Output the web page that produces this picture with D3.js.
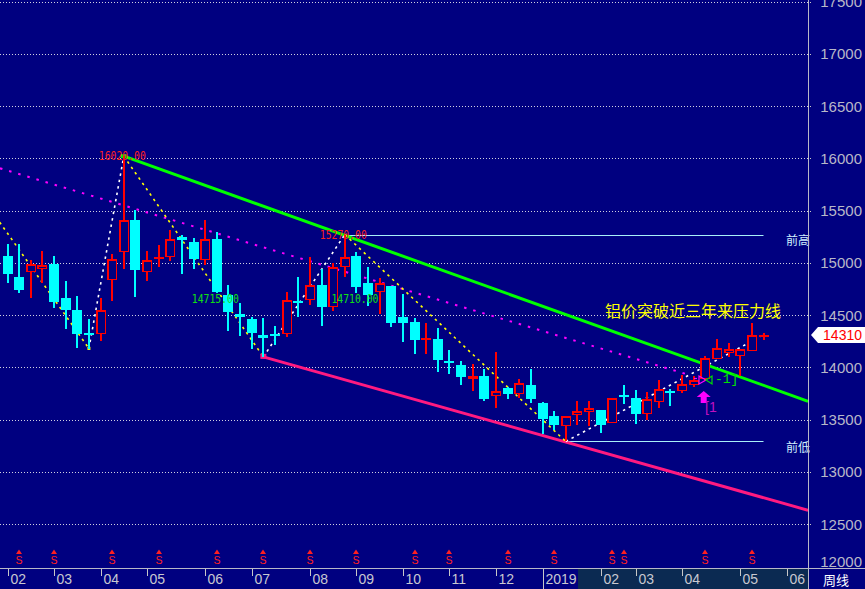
<!DOCTYPE html>
<html><head><meta charset="utf-8">
<script src="https://cdn.jsdelivr.net/npm/d3@7"></script>
<style>html,body{margin:0;padding:0;background:#000080;overflow:hidden}svg{display:block}</style>
</head><body><svg id="c" width="865" height="589"></svg>
<script>
// ---- data (weekly aluminium, index = week number) ----
const opens  = [15062,14861,14916,14941,14986,14660,14545,14330,14323,14839,15107,15407,14912,15045,15055,15244,15196,15026,15225,14689,14507,14459,14306,14316,14319,14634,14644,14785,14577,14957,15062,14804,14721,14775,14478,14431,14270,14268,14060,14019,13888,13914,13725,13799,13742,13828,13655,13531,13438,13544,13572,13589,13467,13732,13703,13550,13668,13770,13770,13828,13885,14077,14134,14108,14153,14287];
const highs  = [15177,15177,15024,15110,15062,14823,14679,14466,14667,15081,16020,15502,15110,15167,15311,15263,15234,15407,15292,14785,14612,14478,14469,14392,14718,14861,15053,14938,14998,15270,15100,14957,14852,14775,14699,14469,14421,14373,14163,14057,14029,13984,14144,13811,13885,13981,13665,13579,13538,13675,13675,13589,13703,13828,13780,13761,13876,13789,13923,13914,14105,14268,14230,14172,14421,14325];
const lows   = [14804,14708,14663,14806,14567,14367,14188,14179,14252,14630,14941,14673,14826,14960,15014,14890,14938,14979,14715,14344,14300,14175,14100,14210,14290,14481,14596,14395,14539,14864,14708,14584,14507,14385,14242,14127,14127,13955,13936,13831,13773,13677,13611,13697,13703,13655,13359,13397,13290,13448,13438,13368,13467,13649,13455,13493,13610,13627,13751,13809,13866,14077,14096,13914,14153,14258];
const closes = [14890,14737,14992,14976,14625,14548,14319,14318,14552,15033,15407,14931,15024,15055,15225,15215,15033,15225,14721,14526,14478,14325,14280,14297,14641,14625,14785,14577,14957,15053,14766,14689,14804,14424,14424,14261,14280,14070,14041,13907,13914,13697,13770,13744,13847,13694,13502,13445,13538,13579,13608,13448,13703,13716,13550,13694,13789,13751,13837,13876,14086,14182,14172,14172,14306,14310];
const monthTickIdx   = [0,4,8,12,17,21,26,30,34,38,42,46,51,54,58,63,67];
const monthTickLabel = ["02","03","04","05","06","07","08","09","10","11","12","2019","02","03","04","05","06"];
const signalIdx = [1,4,9,13,18,22,26,30,35,38,43,47,52,53,60,64];
const yTickValues = [12000,12500,13000,13500,14000,14500,15000,15500,16000,16500,17000,17500];
const zigzagPts = [[-1,15440],[7,14180],[10,16020],[22,14100],[29,15270],[48,13290],[65,14310]];
const greenLinePts   = [[10,16020],[68.83,13675]];
const pinkLinePts    = [[22,14100],[68.83,12632]];
const magentaLinePts = [[-0.645,15904],[58.7,13924]];
const prevHigh = {from:29, to:65, value:15270, label:"前高"};
const prevLow  = {from:48, to:65, value:13290, label:"前低"};
const extremeLabels = [
  {i:10, v:16020, text:"16020.00", kind:"high"},
  {i:29, v:15270, text:"15270.00", kind:"high"},
  {i:18, v:14715, text:"14715.00", kind:"low"},
  {i:30, v:14710, text:"14710.00", kind:"low"}
];
const lastPrice = 14310;
const title = "铝价突破近三年来压力线";

// ---- layout ----
const W = 865, H = 589, plotR = 808, plotB = 568;
const svg = d3.select("#c");
const BG = "#000080";
const x = d3.scaleLinear().domain([0,65]).range([7.5,763.5]);
const y = d3.scaleLinear().domain([12000,17500]).range([576.3,1.55]);

svg.append("rect").attr("width",W).attr("height",H).attr("fill",BG);
svg.append("defs").append("clipPath").attr("id","plot")
  .append("rect").attr("x",0).attr("y",0).attr("width",plotR).attr("height",plotB);
const g = svg.append("g").attr("clip-path","url(#plot)");

// gridlines
g.selectAll("line.grid").data(yTickValues.filter(v=>y(v)<plotB)).join("line")
  .attr("x1",0).attr("x2",plotR).attr("y1",d=>Math.round(y(d))+0.5).attr("y2",d=>Math.round(y(d))+0.5)
  .attr("stroke","#d0d0e0").attr("stroke-width",1).attr("stroke-dasharray","1,2");

// prev high / low lines
[prevHigh, prevLow].forEach(p=>{
  g.append("line").attr("x1",x(p.from)).attr("x2",x(p.to))
   .attr("y1",Math.round(y(p.value))+0.5).attr("y2",Math.round(y(p.value))+0.5)
   .attr("stroke","#a8f0f8").attr("stroke-width",1.2);
});

// trend lines
const line = d3.line().x(d=>x(d[0])).y(d=>y(d[1]));
g.append("path").attr("d",line(magentaLinePts)).attr("fill","none")
  .attr("stroke","#ff00ff").attr("stroke-width",2).attr("stroke-dasharray","2.5,7");
g.append("path").attr("d",line(greenLinePts)).attr("fill","none")
  .attr("stroke","#00ff00").attr("stroke-width",3);
g.append("path").attr("d",line(pinkLinePts)).attr("fill","none")
  .attr("stroke","#ff1a80").attr("stroke-width",3);

// zigzag
for(let k=0;k<zigzagPts.length-1;k++){
  const a=zigzagPts[k], b=zigzagPts[k+1];
  g.append("path").attr("d",line([a,b])).attr("fill","none")
   .attr("stroke", b[1]<a[1] ? "#ffff00" : "#ffffff")
   .attr("stroke-width",1.6).attr("stroke-dasharray","2.5,4");
}
// markers at pivots
g.append("rect").attr("x",x(7)-1.5).attr("y",y(14180)-1.5).attr("width",3).attr("height",3).attr("fill","#ffff00");
g.append("rect").attr("x",x(22)-3).attr("y",y(14100)-3).attr("width",6).attr("height",5).attr("fill","#ff1a80");
g.append("rect").attr("x",x(10)-3).attr("y",y(16020)-2).attr("width",6).attr("height",4).attr("fill","#00ff00");

// candles
const data = opens.map((o,i)=>({i,o,h:highs[i],l:lows[i],c:closes[i]}));
const cg = g.append("g").attr("shape-rendering","crispEdges");
data.forEach(d=>{
  const up = d.c >= d.o;
  const col = up ? "#ff0000" : "#00ffff";
  const left = Math.round(x(d.i)-5);
  const cx = left+5;
  let top = Math.round(y(Math.max(d.o,d.c)));
  let bot = Math.round(y(Math.min(d.o,d.c)));
  if(bot-top<2) bot = top+2;
  cg.append("line").attr("x1",cx).attr("x2",cx).attr("y1",y(d.h)).attr("y2",top).attr("stroke",col).attr("stroke-width",1.3);
  cg.append("line").attr("x1",cx).attr("x2",cx).attr("y1",bot).attr("y2",y(d.l)).attr("stroke",col).attr("stroke-width",1.3);
  if(up){
    const last = d.i===opens.length-1;
    cg.append("rect").attr("x",left+0.75).attr("y",top+0.75).attr("width",8.5).attr("height",Math.max(0.5,bot-top-1.5))
      .attr("fill", last ? "#ffffff" : BG).attr("stroke",col).attr("stroke-width",1.5);
  } else {
    cg.append("rect").attr("x",left).attr("y",top).attr("width",10).attr("height",bot-top).attr("fill",col);
  }
});

// extreme labels
g.selectAll("text.ext").data(extremeLabels).join("text")
  .attr("x",d=>x(d.i)-25).attr("y",d=>d.kind==="high"?y(d.v):y(d.v)+6)
  .attr("dominant-baseline","central")
  .attr("font-family","DejaVu Sans Mono, monospace").attr("font-size",11.5)
  .attr("textLength",47).attr("lengthAdjust","spacingAndGlyphs")
  .attr("fill",d=>d.kind==="high"?"#ff2020":"#10e010")
  .text(d=>d.text);

// title
g.append("text").attr("x",605).attr("y",310).attr("dominant-baseline","central")
  .attr("font-family","Noto Sans CJK SC").attr("font-size",16).attr("fill","#ffff00").text(title);

// prev high/low texts
[prevHigh, prevLow].forEach(p=>{
  svg.append("text").attr("x",786).attr("y",y(p.value)+5).attr("dominant-baseline","central")
    .attr("font-family","Noto Sans CJK SC").attr("font-size",12).attr("fill","#d0f0ff").text(p.label);
});

// signal marker (magenta arrow, bracket text)
const ax = x(59)+10, ay = 391;
svg.append("path").attr("d",`M${ax},${ay} L${ax+7},${ay+6} L${ax+3},${ay+6} L${ax+3},${ay+12} L${ax-3},${ay+12} L${ax-3},${ay+6} L${ax-7},${ay+6} Z`)
  .attr("fill","#ff00ff");
svg.append("text").attr("x",705).attr("y",407).attr("dominant-baseline","central")
  .attr("font-family","Liberation Sans").attr("font-size",14).attr("fill","#c010c0").text("[1");
svg.append("path").attr("d","M694,378.5 L697,378.5").attr("stroke","#ff00ff").attr("stroke-width",1.2);
svg.append("path").attr("d","M699,376 L699,384 L706,380 Z").attr("fill","none").attr("stroke","#ff00ff").attr("stroke-width",1.2);
svg.append("path").attr("d","M712,376 L712,384 L706,380 Z").attr("fill","none").attr("stroke","#00e000").attr("stroke-width",1.2);
svg.append("text").attr("x",715).attr("y",379).attr("dominant-baseline","central")
  .attr("font-family","Liberation Mono").attr("font-size",13).attr("fill","#00e000").text("-1]");

// signal S markers
const sg = svg.append("g");
signalIdx.forEach(i=>{
  const cx = Math.round(x(i));
  sg.append("path").attr("d",`M${cx},549.5 L${cx+3},554 L${cx-3},554 Z`).attr("fill","#ff2020");
  sg.append("text").attr("x",cx).attr("y",559.5).attr("text-anchor","middle").attr("dominant-baseline","central")
    .attr("font-family","Liberation Sans").attr("font-size",10.5).attr("fill","#ff2020").text("S");
});

// bottom axis strip
svg.append("rect").attr("x",578).attr("y",569).attr("width",plotR-578).attr("height",20).attr("fill","#0b2a52");
svg.append("line").attr("x1",0).attr("x2",W).attr("y1",568.5).attr("y2",568.5).attr("stroke","#b8b8c8");
svg.append("line").attr("x1",plotR+0.5).attr("x2",plotR+0.5).attr("y1",0).attr("y2",H).attr("stroke","#b8b8c8");
const xg = svg.append("g");
monthTickIdx.forEach((i,k)=>{
  const tx = Math.round(x(i))+0.5;
  const isYear = monthTickLabel[k].length===4;
  xg.append("line").attr("x1",tx).attr("x2",tx).attr("y1",569).attr("y2",isYear?589:576).attr("stroke","#c8c8c8");
  xg.append("text").attr("x",tx+2).attr("y",579).attr("dominant-baseline","central")
    .attr("font-family","Liberation Sans").attr("font-size",14).attr("fill","#c8c8d0").text(monthTickLabel[k]);
});
svg.append("text").attr("x",823).attr("y",579).attr("dominant-baseline","central")
  .attr("font-family","Noto Sans CJK SC").attr("font-size",13).attr("fill","#ffffff").text("周线");

// y axis labels
const yg = svg.append("g");
yTickValues.forEach(v=>{
  const py = v===12000 ? 561 : y(v);
  if(v!==12000) yg.append("line").attr("x1",plotR).attr("x2",plotR+4).attr("y1",Math.round(y(v))+0.5).attr("y2",Math.round(y(v))+0.5)
     .attr("stroke","#c8c8c8").attr("stroke-dasharray","1,1");
  yg.append("text").attr("x",862).attr("y",py).attr("text-anchor","end").attr("dominant-baseline","central")
    .attr("font-family","Liberation Sans").attr("font-size",15).attr("fill","#b8b8c8").text(v);
});

// last price tag
const ly = Math.round(y(lastPrice));
svg.append("path").attr("d",`M811,${ly} L818,${ly-8} L865,${ly-8} L865,${ly+8} L818,${ly+8} Z`).attr("fill","#ffffff");
svg.append("text").attr("x",862).attr("y",ly).attr("text-anchor","end").attr("dominant-baseline","central")
  .attr("font-family","Liberation Sans").attr("font-size",14).attr("fill","#ff0000").text(lastPrice);
</script></body></html>
